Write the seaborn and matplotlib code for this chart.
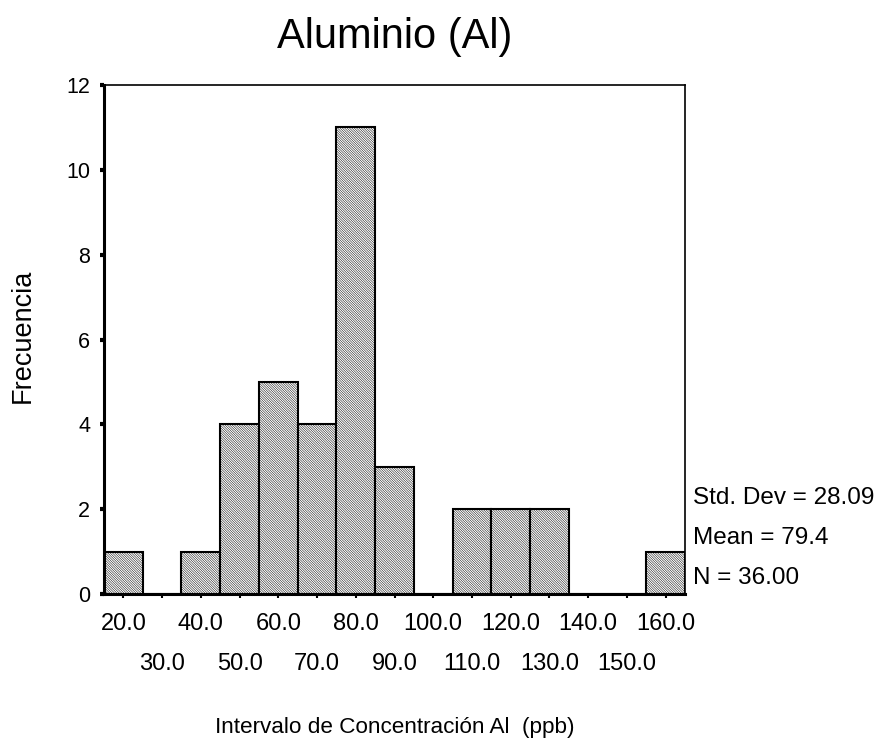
import matplotlib
matplotlib.use("Agg")
import matplotlib.pyplot as plt
import seaborn as sns
import pandas as pd

# Data
bin_centers = [20, 30, 40, 50, 60, 70, 80, 90, 100, 110, 120, 130, 140, 150, 160]
counts = [1, 0, 1, 4, 5, 4, 11, 3, 0, 2, 2, 2, 0, 0, 1]
tick_labels = ["20.0", "30.0", "40.0", "50.0", "60.0", "70.0", "80.0", "90.0",
               "100.0", "110.0", "120.0", "130.0", "140.0", "150.0", "160.0"]
y_ticks = [0, 2, 4, 6, 8, 10, 12]
stats_lines = ["Std. Dev = 28.09", "Mean = 79.4", "N = 36.00"]
title = "Aluminio (Al)"
xlabel = "Intervalo de Concentración Al  (ppb)"
ylabel = "Frecuencia"

sns.set_style("white")
plt.rcParams['font.family'] = ['Liberation Sans', 'DejaVu Sans']
plt.rcParams['hatch.linewidth'] = 0.35
plt.rcParams['hatch.color'] = '#8c8c8c'
plt.rcParams['text.color'] = 'black'
plt.rcParams['xtick.color'] = 'black'
plt.rcParams['ytick.color'] = 'black'
plt.rcParams['axes.labelcolor'] = 'black'

fig = plt.figure(figsize=(8.76, 7.47), dpi=100)
ax = fig.add_axes([104/876, 1-594/747, (685-104)/876, (594-85)/747])

df = pd.DataFrame({"center": bin_centers, "count": counts})
edges = [c - 5 for c in bin_centers] + [bin_centers[-1] + 5]
sns.histplot(data=df, x="center", weights="count", bins=edges, ax=ax,
             color='white', edgecolor='black', linewidth=1.5, alpha=1)
for p in ax.patches:
    p.set_hatch('\\' * 14)
    p.set_facecolor('white')

ax.set_xlim(15, 165)
ax.set_ylim(0, 12)
ax.set_yticks(y_ticks)
ax.set_yticklabels([str(v) for v in y_ticks], fontsize=15.5)

even_pos = bin_centers[0::2]
odd_pos = bin_centers[1::2]
ax.set_xticks(even_pos)
ax.set_xticklabels(tick_labels[0::2], fontsize=17)
ax.set_xticks(odd_pos, minor=True)
ax.set_xticklabels(tick_labels[1::2], minor=True, fontsize=17)

ax.tick_params(axis='y', direction='out', length=3, width=3, pad=7, left=True)
ax.tick_params(axis='x', which='major', direction='out', length=3, width=1.5, pad=10.5, bottom=True)
ax.tick_params(axis='x', which='minor', direction='out', length=3, width=1.5, pad=39.5, bottom=True)

for side in ['top', 'right']:
    ax.spines[side].set_linewidth(1.2)
    ax.spines[side].set_color('black')
for side in ['left', 'bottom']:
    ax.spines[side].set_linewidth(2.2)
    ax.spines[side].set_color('black')
    ax.spines[side].set_visible(True)

ax.set_xlabel(xlabel, fontsize=16.2)
ax.xaxis.set_label_coords(0.5, (594-728)/509)
ax.xaxis.label.set_va('center')
ax.set_ylabel(ylabel, fontsize=19.5)
ax.yaxis.set_label_coords((23-104)/581, 0.508)
ax.yaxis.label.set_va('center')

fig.text(0.5 * (104 + 685) / 876, 1-37/747, title, fontsize=30, ha='center', va='center')
for txt, yp in zip(stats_lines, [498, 538, 578]):
    fig.text(693/876, 1-yp/747, txt, fontsize=17.5, ha='left', va='center')

fig.savefig("out.png", dpi=100)
